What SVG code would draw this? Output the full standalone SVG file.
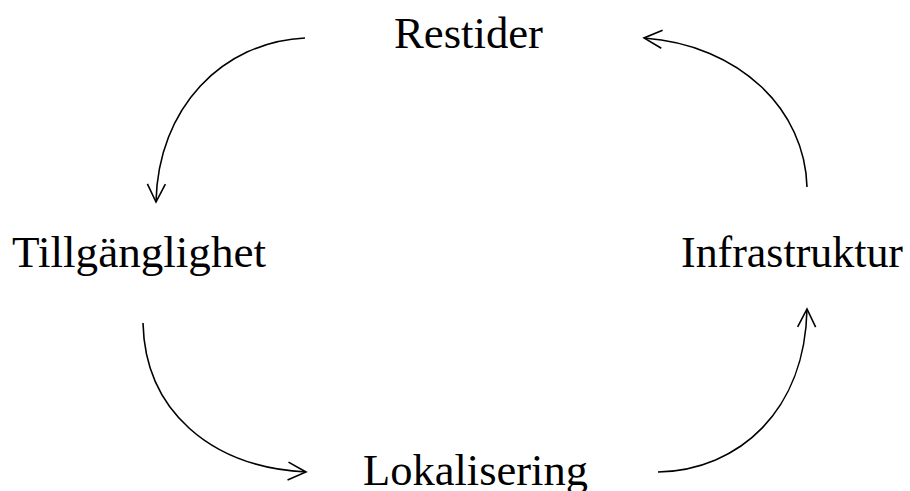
<svg xmlns="http://www.w3.org/2000/svg" width="910" height="491" viewBox="0 0 910 491">
<style>
.lbl{font-family:"Liberation Serif","Times New Roman",serif;font-size:45px;fill:#000}
.arc{fill:none;stroke:#000;stroke-width:1.6}
</style>
<defs>
<marker id="ah" markerUnits="userSpaceOnUse" viewBox="-20 -11 22 22" refX="0" refY="0" markerWidth="22" markerHeight="22" orient="auto">
<path d="M-18,-9 L0,0 L-18,9" fill="none" stroke="#000" stroke-width="1.6"/>
</marker>
</defs>
<rect width="910" height="491" fill="#fff"/>
<g id="n-restider"><text class="lbl" x="394" y="48" textLength="149" lengthAdjust="spacingAndGlyphs">Restider</text></g>
<g id="n-tillganglighet"><text class="lbl" x="12" y="267" textLength="254" lengthAdjust="spacingAndGlyphs">Tillgänglighet</text></g>
<g id="n-infrastruktur"><text class="lbl" x="681" y="267" textLength="222" lengthAdjust="spacingAndGlyphs">Infrastruktur</text></g>
<g id="n-lokalisering"><text class="lbl" x="363" y="485" textLength="225" lengthAdjust="spacingAndGlyphs">Lokalisering</text></g>
<g id="connectors">
<path class="arc" marker-end="url(#ah)" d="M305,38 C222,42 158,108 156,202"/>
<path class="arc" marker-end="url(#ah)" d="M143,323 C145,410 210,467 306,472"/>
<path class="arc" marker-end="url(#ah)" d="M658,472 C740,470 805,410 807,309"/>
<path class="arc" marker-end="url(#ah)" d="M807,187 C805,110 740,45 644,38"/>
</g>
</svg>
